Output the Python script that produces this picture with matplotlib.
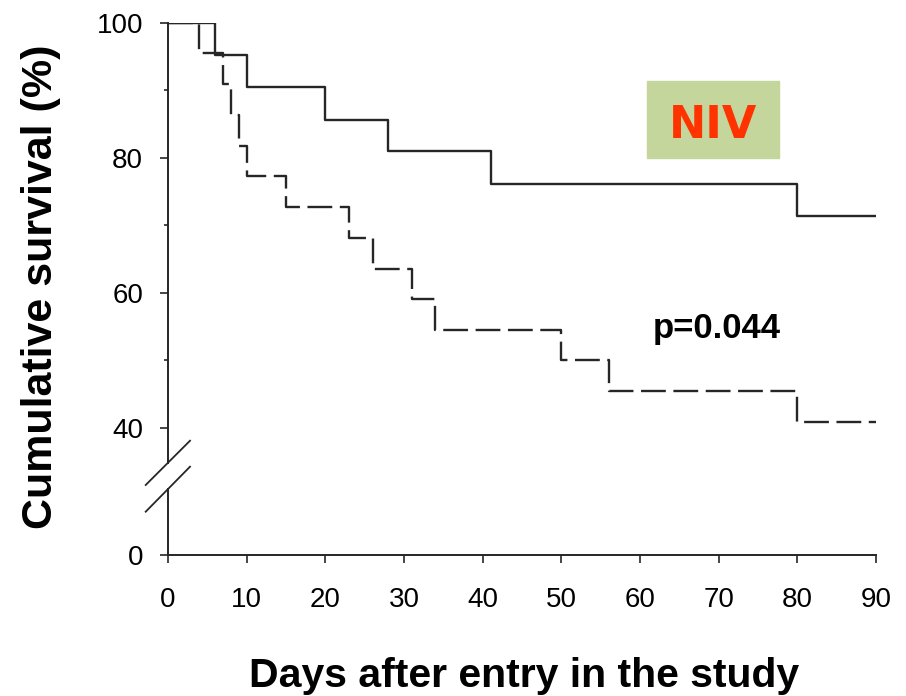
import numpy as np
import matplotlib
matplotlib.use("Agg")
import matplotlib.pyplot as plt
from matplotlib.lines import Line2D
from matplotlib.patches import Rectangle

plt.rcParams['font.family'] = ['Liberation Sans', 'DejaVu Sans']

# Kaplan-Meier survival, NIV group (solid) and control group (dashed)
niv_days = [0, 6, 10, 20, 28, 41, 80, 90]
niv_surv = [100, 95.2, 90.5, 85.7, 81.0, 76.2, 71.4, 71.4]
ctrl_days = [0, 4, 7, 8, 9, 10, 15, 23, 26, 31, 34, 50, 56, 80, 90]
ctrl_surv = [100, 95.5, 90.9, 86.4, 81.8, 77.3, 72.7, 68.2, 63.6, 59.1, 54.5, 50.0, 45.5, 40.9, 40.9]

x_ticks = [0, 10, 20, 30, 40, 50, 60, 70, 80, 90]
y_ticks = [0, 40, 60, 80, 100]
y_minor = [50, 70, 90]

# broken y axis: 40-100 drawn at full scale, 0-40 squeezed underneath
BREAK = 40.0
K = 0.4704


def fwd(y):
    y = np.asarray(y, dtype=float)
    return np.where(y >= BREAK, y, BREAK - (BREAK - y) * K)


def inv(v):
    v = np.asarray(v, dtype=float)
    return np.where(v >= BREAK, v, BREAK - (BREAK - v) / K)


fig = plt.figure(figsize=(9.06, 6.96), dpi=100)
ax = fig.add_axes([168/906, 1-555/696, 708/906, 532/696])
ax.set_yscale('function', functions=(fwd, inv))
ax.set_xlim(0, 90)
ax.set_ylim(0, 100)

line_col = '#262626'
ax.step(niv_days, niv_surv, where='post', color=line_col, lw=1.7)
ax.step(ctrl_days, ctrl_surv, where='post', color=line_col, lw=1.7,
        linestyle=(0, (10.5, 3.2)))

for s in ['top', 'right', 'left']:
    ax.spines[s].set_visible(False)
ax.spines['bottom'].set_linewidth(1.4)
ax.spines['bottom'].set_color(line_col)

# left axis line with a gap and two slashes
for y0, y1 in [(1.0, 0.1735), (0.124, 0.0)]:
    ax.add_line(Line2D([0, 0], [y0, y1], transform=ax.transAxes,
                       color=line_col, lw=1.4, clip_on=False))
for ya, yb in [(0.1316, 0.2148), (0.0814, 0.166)]:
    ax.add_line(Line2D([-0.0315, 0.0311], [ya, yb], transform=ax.transAxes,
                       color=line_col, lw=1.3, clip_on=False))

ax.set_xticks(x_ticks)
ax.set_yticks(y_ticks)
ax.set_yticks(y_minor, minor=True)
ax.set_yticklabels([str(v) for v in y_ticks])
ax.yaxis.set_minor_formatter(plt.NullFormatter())
ax.tick_params(axis='x', direction='out', length=6, width=1.2, pad=17,
               labelsize=20, color=line_col)
ax.tick_params(axis='y', which='major', direction='out', length=6, width=1.2,
               pad=12, labelsize=20, color=line_col)
ax.tick_params(axis='y', which='minor', direction='out', length=3, width=1.2,
               color=line_col)

fig.text(41/906, 1-287/696, 'Cumulative survival (%)', rotation=90,
         ha='center', va='center', fontsize=31, fontweight='bold')
fig.text(524/906, 1-687/696, 'Days after entry in the study',
         ha='center', va='baseline', fontsize=29.5, fontweight='bold')

fig.text(717/906, 1-338/696, 'p=0.044', ha='center', va='baseline',
         fontsize=25, fontweight='bold')

fig.patches.append(Rectangle((646.7/906, 1-157.7/696), 132.3/906, 76.7/696,
                             transform=fig.transFigure, color='#c4d69b'))
fig.text(713/906, 1-138/696, 'NIV', ha='center', va='baseline', fontsize=32,
         fontweight='bold', color='#ff3300', family='DejaVu Sans')

fig.savefig('out.png', dpi=100)
